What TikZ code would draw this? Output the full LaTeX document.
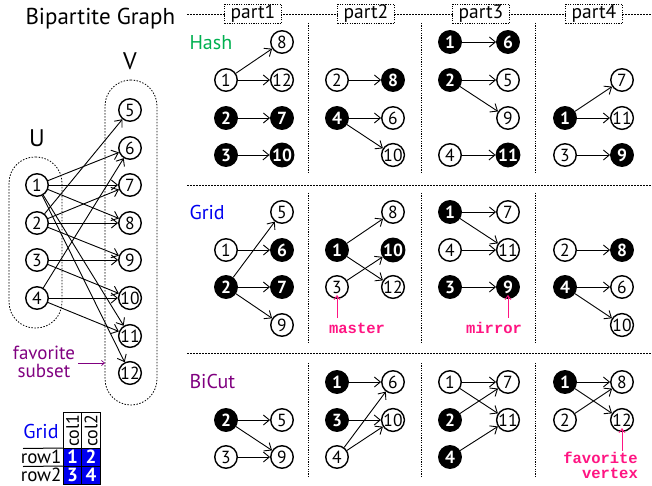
\documentclass[tikz,border=0pt]{standalone}
\usepackage{fontspec}
\setmainfont{PT Sans}
\setmonofont{Liberation Mono}
\usetikzlibrary{arrows.meta}

\definecolor{hashgreen}{RGB}{0,176,80}
\definecolor{gridblue}{RGB}{0,0,240}
\definecolor{cutpurple}{RGB}{128,0,128}
\definecolor{notepink}{RGB}{255,20,130}

\tikzset{
  vtx/.style={circle, draw, line width=1.4pt, minimum size=22.5pt, inner sep=0pt,
              font=\fontsize{17.5}{17}\selectfont},
  hub/.style={vtx, fill=black, text=white, font=\fontsize{17.5}{17}\selectfont\bfseries},
  arc/.style={-{Straight Barb[length=6pt,width=10pt]}, line width=0.9pt},
  region/.style={draw, line width=0.8pt, dash pattern=on 1.5pt off 1.5pt,
                 rounded corners=26pt, inner sep=0pt},
  divider/.style={line width=0.9pt, dash pattern=on 1.2pt off 1.2pt},
  topline/.style={line width=0.9pt, dash pattern=on 2pt off 1pt},
  partbox/.style={draw, fill=white, line width=0.9pt, dash pattern=on 1.2pt off 1.2pt,
                  minimum width=57pt, minimum height=19pt, inner sep=0pt,
                  font=\fontsize{19.5}{19}\selectfont},
  heading/.style={anchor=west, font=\fontsize{20}{20}\selectfont},
  note/.style={text=notepink, font=\fontsize{15.5}{15}\selectfont\ttfamily\bfseries},
  notearrow/.style={draw=notepink, line width=0.8pt, -{Straight Barb[length=4pt,width=6pt]}},
  cell/.style={draw, line width=1pt, fill=gridblue, text=white, minimum width=18.5pt,
               minimum height=18pt, inner sep=0pt, text height=12pt, text depth=0pt,
               font=\fontsize{19}{19}\selectfont\bfseries},
  colhead/.style={draw, line width=1pt, minimum width=18.5pt, minimum height=36pt,
                  inner sep=0pt},
  rowlbl/.style={anchor=east, inner sep=1pt, text height=12pt, text depth=0pt,
                 font=\fontsize{19}{19}\selectfont},
}

\begin{document}
\begin{tikzpicture}[x=1pt,y=-1pt]
\useasboundingbox (0,0) rectangle (652,486);

% ---------------- left: the bipartite graph ----------------
\node[anchor=west, font=\fontsize{23}{23}\selectfont] (title) at (22,19) {Bipartite Graph};

\node[region, minimum width=53pt, minimum height=171pt] (Ureg) at (35.5,242.5) {};
\node[region, minimum width=52pt, minimum height=325pt] (Vreg) at (131,242.5) {};
\node[font=\fontsize{24}{24}\selectfont] (Ulbl) at (37,138) {U};
\node[font=\fontsize{24}{24}\selectfont] (Vlbl) at (130,61) {V};

\node[vtx] (u1) at (37,185) {1};
\node[vtx] (u2) at (37,223) {2};
\node[vtx] (u3) at (37,260) {3};
\node[vtx] (u4) at (37,298) {4};
\node[vtx] (v5) at (130,110) {5};
\node[vtx] (v6) at (130,148) {6};
\node[vtx] (v7) at (130,185) {7};
\node[vtx] (v8) at (130,223) {8};
\node[vtx] (v9) at (130,260) {9};
\node[vtx] (v10) at (130,298) {10};
\node[vtx] (v11) at (130,336) {11};
\node[vtx] (v12) at (130,373) {12};

\foreach \a/\b in {u1/v6,u1/v7,u1/v8,u1/v11,u1/v12,u2/v5,u2/v7,u2/v8,u2/v9,
                   u3/v9,u3/v10,u4/v6,u4/v10,u4/v11}
  \draw[arc] (\a) -- (\b);

\node[align=center, text=cutpurple, inner sep=1pt, font=\fontsize{19}{18}\selectfont] (fav) at (44,362) {favorite\\subset};
\coordinate (favend) at (105,363);
\draw[draw=cutpurple, line width=0.7pt, -{Straight Barb[length=3pt,width=5pt]}] (78,363) -- (favend);

% ---------------- grid table ----------------
\node[anchor=center, text=gridblue, font=\fontsize{20}{20}\selectfont] (gridlbl) at (41,431) {Grid};
\node[colhead] (c1) at (72.5,430.5) {};
\node[colhead] (c2) at (91,430.5) {};
\node[rotate=90, font=\fontsize{18}{18}\selectfont] (c1t) at (c1) {col1};
\node[rotate=90, font=\fontsize{18}{18}\selectfont] (c2t) at (c2) {col2};
\node[cell] (g1) at (72.5,457.5) {1};
\node[cell] (g2) at (91,457.5) {2};
\node[cell] (g3) at (72.5,475.5) {3};
\node[cell] (g4) at (91,475.5) {4};
\node[rowlbl] (r1) at (g1.west) {row1};
\node[rowlbl] (r2) at (g3.west) {row2};
\draw[line width=1pt] (23,448.5) -- (g1.north west);
\draw[line width=1pt] (23,466.5) -- (g3.north west);

% ---------------- partition frame ----------------
\draw[topline] (187,14) -- (652,14);
\node[partbox] (p1) at (253,14) {part1};
\node[partbox] (p2) at (366,14) {part2};
\node[partbox] (p3) at (481,14) {part3};
\node[partbox] (p4) at (594,14) {part4};

\draw[topline] (187,185) -- (652,185);
\draw[topline] (187,353) -- (652,353);

\foreach \x in {308,421,535} {
  \draw[divider] (\x,23) -- (\x,173);
  \draw[divider] (\x,193) -- (\x,343);
  \draw[divider] (\x,363) -- (\x,478);
}

\node[heading, text=hashgreen] (hash) at (186,43) {Hash};
\node[heading, text=gridblue] (grid) at (186,212) {Grid};
\node[heading, text=cutpurple] (bicut) at (186,381) {BiCut};

% ---------------- Hash ----------------
\node[vtx] (H1v8) at (282,42) {8};
\node[vtx] (H1u1) at (226,80) {1};
\node[vtx] (H1v12) at (282,80) {12};
\node[hub] (H1u2) at (226,118) {2};
\node[hub] (H1v7) at (282,118) {7};
\node[hub] (H1u3) at (226,155) {3};
\node[hub] (H1v10) at (282,155) {10};

\node[vtx] (H2u2) at (337,80) {2};
\node[hub] (H2v8) at (393,80) {8};
\node[hub] (H2u4) at (337,118) {4};
\node[vtx] (H2v6) at (393,118) {6};
\node[vtx] (H2v10) at (393,155) {10};

\node[hub] (H3u1) at (450,42) {1};
\node[hub] (H3v6) at (508,42) {6};
\node[hub] (H3u2) at (450,80) {2};
\node[vtx] (H3v5) at (508,80) {5};
\node[vtx] (H3v9) at (508,118) {9};
\node[vtx] (H3u4) at (450,155) {4};
\node[hub] (H3v11) at (508,155) {11};

\node[vtx] (H4v7) at (622,80) {7};
\node[hub] (H4u1) at (565,118) {1};
\node[vtx] (H4v11) at (622,118) {11};
\node[vtx] (H4u3) at (565,155) {3};
\node[hub] (H4v9) at (622,155) {9};

\foreach \a/\b in {H1u1/H1v8,H1u1/H1v12,H1u2/H1v7,H1u3/H1v10,
                   H2u2/H2v8,H2u4/H2v6,H2u4/H2v10,
                   H3u1/H3v6,H3u2/H3v5,H3u2/H3v9,H3u4/H3v11,
                   H4u1/H4v7,H4u1/H4v11,H4u3/H4v9}
  \draw[arc] (\a) -- (\b);

% ---------------- Grid ----------------
\node[vtx] (G1v5) at (282,212) {5};
\node[vtx] (G1u1) at (226,250) {1};
\node[hub] (G1v6) at (282,250) {6};
\node[hub] (G1u2) at (226,287) {2};
\node[hub] (G1v7) at (282,287) {7};
\node[vtx] (G1v9) at (282,325) {9};

\node[vtx] (G2v8) at (393,212) {8};
\node[hub] (G2u1) at (337,250) {1};
\node[hub] (G2v10) at (393,250) {10};
\node[vtx] (G2u3) at (337,287) {3};
\node[vtx] (G2v12) at (393,287) {12};

\node[hub] (G3u1) at (450,212) {1};
\node[vtx] (G3v7) at (508,212) {7};
\node[vtx] (G3u4) at (450,250) {4};
\node[vtx] (G3v11) at (508,250) {11};
\node[hub] (G3u3) at (450,287) {3};
\node[hub] (G3v9) at (508,287) {9};

\node[vtx] (G4u2) at (565,250) {2};
\node[hub] (G4v8) at (622,250) {8};
\node[hub] (G4u4) at (565,287) {4};
\node[vtx] (G4v6) at (622,287) {6};
\node[vtx] (G4v10) at (622,325) {10};

\foreach \a/\b in {G1u1/G1v6,G1u2/G1v5,G1u2/G1v7,G1u2/G1v9,
                   G2u1/G2v8,G2u1/G2v12,G2u3/G2v10,
                   G3u1/G3v7,G3u1/G3v11,G3u4/G3v11,G3u3/G3v9,
                   G4u2/G4v8,G4u4/G4v6,G4u4/G4v10}
  \draw[arc] (\a) -- (\b);

\node[note] (master) at (357,328) {master};
\node[note] (mirror) at (494,328) {mirror};
\draw[notearrow] ([yshift=1pt]G2u3.south |- master.north) -- ([yshift=4pt]G2u3.south);
\draw[notearrow] ([yshift=1pt]G3v9.south |- mirror.north) -- ([yshift=4pt]G3v9.south);

% ---------------- BiCut ----------------
\node[hub] (B1u2) at (226,420) {2};
\node[vtx] (B1v5) at (282,420) {5};
\node[vtx] (B1u3) at (226,457) {3};
\node[vtx] (B1v9) at (282,457) {9};

\node[hub] (B2u1) at (337,382) {1};
\node[vtx] (B2v6) at (393,382) {6};
\node[hub] (B2u3) at (337,420) {3};
\node[vtx] (B2v10) at (393,420) {10};
\node[vtx] (B2u4) at (337,457) {4};

\node[vtx] (B3u1) at (450,382) {1};
\node[vtx] (B3v7) at (508,382) {7};
\node[hub] (B3u2) at (450,420) {2};
\node[vtx] (B3v11) at (508,420) {11};
\node[hub] (B3u4) at (450,457) {4};

\node[hub] (B4u1) at (565,382) {1};
\node[vtx] (B4v8) at (622,382) {8};
\node[vtx] (B4u2) at (565,420) {2};
\node[vtx] (B4v12) at (622,420) {12};

\foreach \a/\b in {B1u2/B1v5,B1u2/B1v9,B1u3/B1v9,
                   B2u1/B2v6,B2u3/B2v10,B2u4/B2v6,B2u4/B2v10,
                   B3u1/B3v7,B3u1/B3v11,B3u2/B3v7,B3u4/B3v11,
                   B4u1/B4v8,B4u1/B4v12,B4u2/B4v8}
  \draw[arc] (\a) -- (\b);

\node[note, align=right, anchor=north east, inner sep=0pt] (favv) at (638,452) {favorite\\vertex};
\draw[notearrow] ([yshift=1pt]B4v12.south |- favv.north) -- ([yshift=4pt]B4v12.south);

\end{tikzpicture}
\end{document}
